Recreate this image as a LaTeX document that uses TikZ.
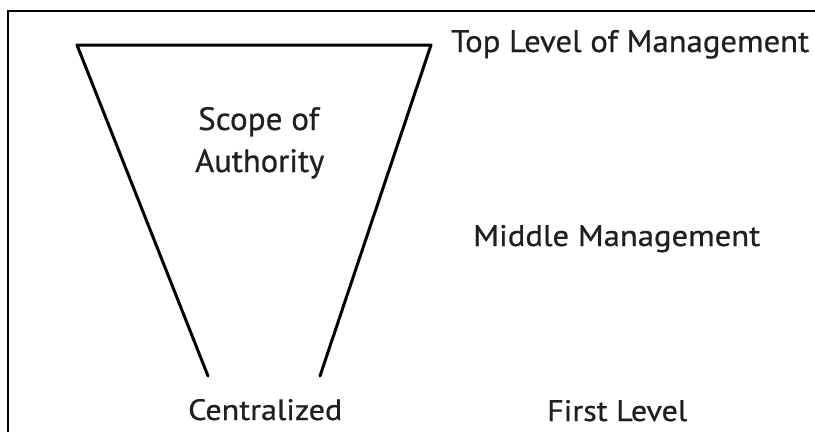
\documentclass[tikz,border=0pt]{standalone}
\usepackage{fontspec}
\setmainfont{PT Sans}[FakeBold=0.6]
\usepackage{graphicx}
\newcommand{\fitwh}[3]{\resizebox{#1}{#2}{#3}}
\begin{document}
\begin{tikzpicture}[x=1pt,y=-1pt,
  lbl/.style={inner sep=0pt,anchor=base west,text=black!88},
  edge/.style={line width=3pt,line cap=round,line join=round},
  frame/.style={line width=2pt}]
\useasboundingbox (0,0) rectangle (815,432);
\fill[white] (0,0) rectangle (815,432);
% frame
\coordinate (fb) at (8,432);
\coordinate (ftl) at (8,11);
\coordinate (fr) at (815,11);
\draw[frame] (fb) -- (ftl) -- (fr);
% trapezoid
\coordinate (tl) at (77,45);
\coordinate (tr) at (431,45);
\coordinate (bl) at (208,376);
\coordinate (br) at (320,376);
\draw[edge] (bl) -- (tl) -- (tr) -- (br);
% labels
\node[lbl] (top) at (451,52) {\fitwh{358pt}{22pt}{Top Level of Management}};
\node[lbl] (scope) at (198,130) {\fitwh{121pt}{23pt}{Scope of}};
\node[lbl] (auth) at (195,172) {\fitwh{129pt}{23pt}{Authority}};
\node[lbl] (mid) at (473,246) {\fitwh{287pt}{21pt}{Middle Management}};
\node[lbl] (cent) at (188,420) {\fitwh{154pt}{21pt}{Centralized}};
\node[lbl] (first) at (547,421) {\fitwh{140pt}{21pt}{First Level}};
\end{tikzpicture}
\end{document}
